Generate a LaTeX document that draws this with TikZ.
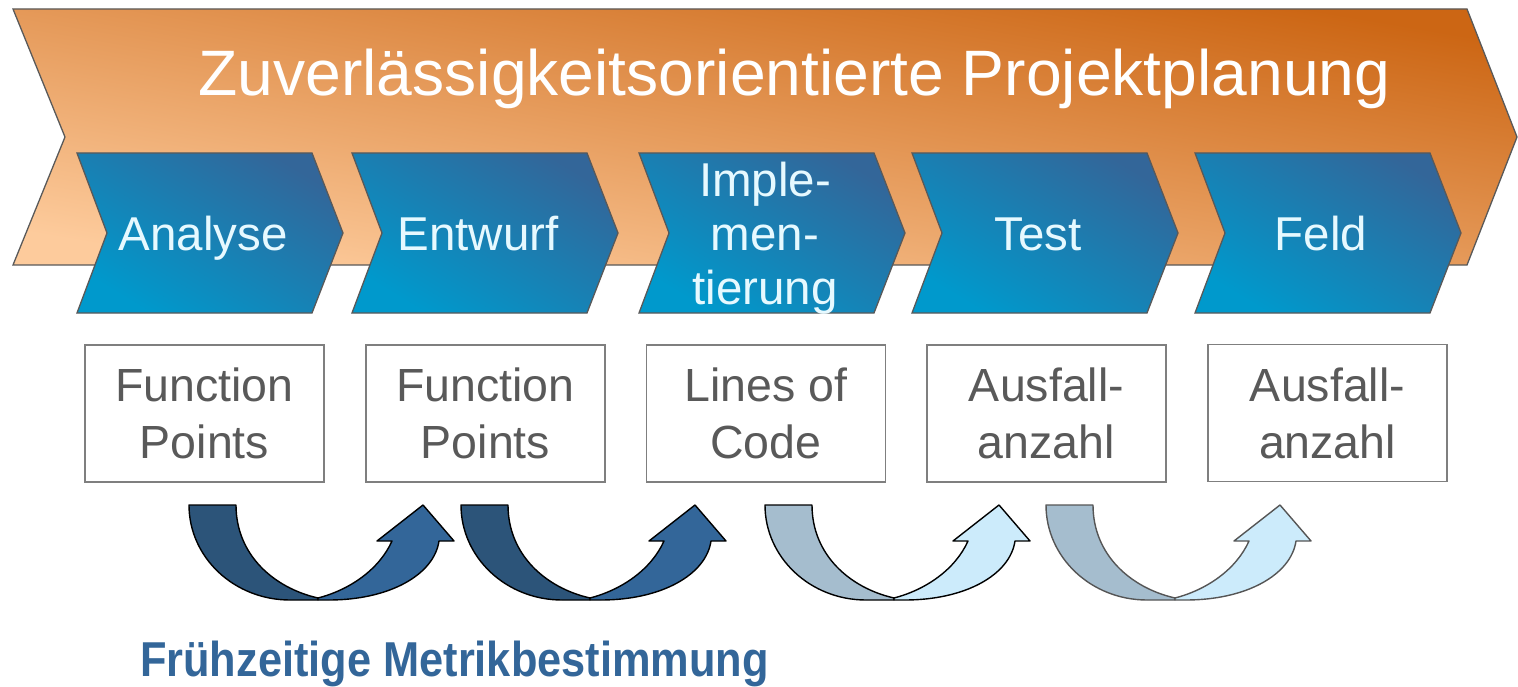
\documentclass[tikz,border=0pt]{standalone}
\usepackage{fontspec}
\setmainfont{Liberation Sans}
\definecolor{orDark}{HTML}{CC6614}
\definecolor{orLight}{HTML}{FDCB9C}
\definecolor{blDark}{HTML}{336699}
\definecolor{blLight}{HTML}{0099CC}
\definecolor{chevline}{HTML}{595959}
\definecolor{labeltext}{HTML}{E6F9FF}
\definecolor{boxline}{HTML}{7F7F7F}
\definecolor{boxtext}{HTML}{595959}
\definecolor{arrDarkA}{HTML}{2C5479}
\definecolor{arrLightA}{HTML}{336699}
\definecolor{arrDarkB}{HTML}{A5BDCE}
\definecolor{arrLightB}{HTML}{CCEBFB}
\definecolor{arrLineB}{HTML}{555555}
\definecolor{titleblue}{HTML}{336699}
\newcommand\bluechev[1]{%
  \path[chevstyle] (#1,153) -- ++(235,0) -- ++(31,80) -- ++(-31,80) -- ++(-235,0) -- ++(30,-80) -- cycle;}
\newcommand\uarrow[4]{%
  \begin{scope}[shift={(#1,505)}]
    \path[draw=#4, fill=#2, arrline] (0,0) -- (47,0) .. controls (47,50) and (85,83) .. (129,93) -- (129,95) -- (101,95) .. controls (45.2,95) and (0,52.5) .. (0,0) -- cycle;
    \path[draw=#4, fill=#3, arrline] (129,93) .. controls (160,85) and (190,65) .. (203,36) -- (188,36) -- (234,0) -- (265,36) -- (250,36) .. controls (245,70) and (200,95) .. (140,95) -- (129,95) -- cycle;
  \end{scope}}
\begin{document}
\begin{tikzpicture}[x=1pt,y=-1pt,
  chevstyle/.style={draw=chevline, line width=1.3pt, line join=miter, top color=blDark, bottom color=blLight, shading angle=-31},
  bigchev/.style={draw=chevline, line width=1.3pt, top color=orDark, bottom color=orLight, shading angle=-9.7},
  arrline/.style={line width=1.4pt, line join=round},
  titletext/.style={anchor=base, inner sep=0pt, text=white, font=\fontsize{64.2}{77}\selectfont},
  chevlabel/.style={anchor=base, inner sep=0pt, text=labeltext, font=\fontsize{47.5}{57}\selectfont},
  metricbox/.style={draw=boxline, line width=1.3pt, fill=white, minimum width=239pt, minimum height=137pt, inner sep=0pt, align=center, text=boxtext, font=\fontsize{46.5}{57}\selectfont},
  bottomtext/.style={anchor=base, inner sep=0pt, text=titleblue, font=\bfseries\fontsize{49}{58}\selectfont}]
\useasboundingbox (0,0) rectangle (1518,687);
% big orange chevron
\path[bigchev] (13,9) -- (1467,9) -- (1517,137) -- (1467,265) -- (13,265) -- (65,137) -- cycle;
\node[titletext] (title) at (794.5,96) {Zuverlässigkeitsorientierte Projektplanung};
% blue chevrons
\bluechev{77}
\bluechev{352}
\bluechev{639}
\bluechev{912}
\bluechev{1195}
\node[chevlabel] (analyse) at (203,251) {Analyse};
\node[chevlabel] (entwurf) at (478,251) {Entwurf};
\node[chevlabel] (impl1) at (765,197) {Imple-};
\node[chevlabel] (impl2) at (765,251) {men-};
\node[chevlabel] (impl3) at (765,304) {tierung};
\node[chevlabel] (test) at (1038,251) {Test};
\node[chevlabel] (feld) at (1321,251) {Feld};
% metric boxes
\node[metricbox] (m1) at (204.5,413.5) {Function\\Points};
\node[metricbox] (m2) at (485.5,413.5) {Function\\Points};
\node[metricbox] (m3) at (766,413.5) {Lines of\\Code};
\node[metricbox] (m4) at (1046.5,413.5) {Ausfall-\\anzahl};
\node[metricbox] (m5) at (1327.5,413) {Ausfall-\\anzahl};
% curved arrows
\uarrow{189}{arrDarkA}{arrLightA}{black}
\uarrow{461}{arrDarkA}{arrLightA}{black}
\uarrow{765}{arrDarkB}{arrLightB}{black}
\uarrow{1046}{arrDarkB}{arrLightB}{arrLineB}
% bottom caption
\node[bottomtext] (early) at (454.5,676.7) {\scalebox{0.885}[1]{Frühzeitige Metrikbestimmung}};
\end{tikzpicture}
\end{document}
